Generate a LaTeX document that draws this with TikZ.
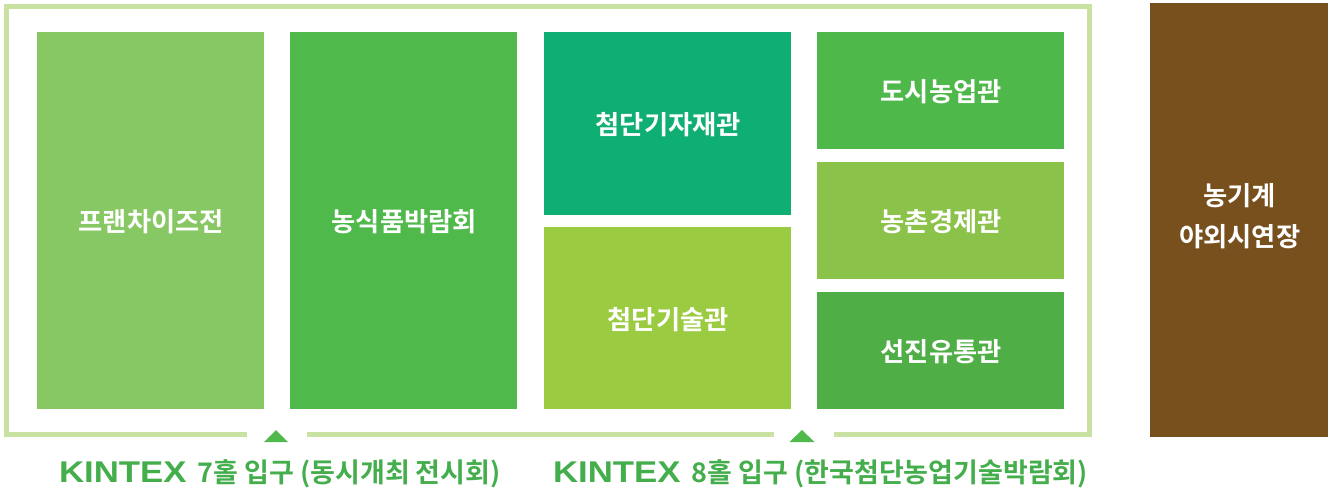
\documentclass[tikz,border=0pt]{standalone}
\usepackage{fontspec}
\setmainfont{Noto Sans CJK KR Bold}
\newfontfamily\latinbold{Liberation Sans Bold}
\definecolor{framegreen}{HTML}{C9E2A2}
\definecolor{labelgreen}{HTML}{45AE4C}
\definecolor{arrowgreen}{HTML}{50B94B}
\definecolor{cA}{HTML}{88C864}
\definecolor{cB}{HTML}{50B94B}
\definecolor{cC}{HTML}{0FAF73}
\definecolor{cD}{HTML}{9BCB41}
\definecolor{cE}{HTML}{4FB84B}
\definecolor{cF}{HTML}{8AC24A}
\definecolor{cG}{HTML}{4FAE46}
\definecolor{cH}{HTML}{78501E}
\tikzset{
  hallbox/.style={inner sep=0pt,outer sep=0pt,text=white,font=\fontsize{26.3}{41}\selectfont,align=center},
  entry/.style={inner sep=0pt,outer sep=0pt,text=labelgreen,font=\fontsize{27}{30}\selectfont,anchor=base west},
  rail/.style={draw=framegreen,line width=5.2pt,line join=miter},
  marker/.style={fill=arrowgreen,draw=none}
}
\newcommand{\hall}[8]{\fill[#6] (#2,#3) rectangle (#4,#5);
  \node[hallbox] (#1) at ({(#2+#4)/2+0.7},{(#3+#5)/2+#8}) {#7};}
\newcommand{\kintex}{{\latinbold\fontsize{30}{30}\selectfont\scalebox{1.16}[1]{KINTEX}}\hspace{11pt}}
\begin{document}
\begin{tikzpicture}[x=1pt,y=-1pt]
\useasboundingbox (0,0) rectangle (1331,493);
\draw[rail] (247,434.4) -- (6.6,434.4) -- (6.6,6.6) -- (1089.4,6.6) -- (1089.4,434.4) -- (834,434.4);
\draw[rail] (307,434.4) -- (774,434.4);
\hall{a}{37}{32}{264}{409}{cA}{프랜차이즈전}{1.5}
\hall{b}{290}{32}{517}{409}{cB}{농식품박람회}{1.5}
\hall{c}{544}{32}{791}{215}{cC}{첨단기자재관}{1.5}
\hall{d}{544}{227}{791}{409}{cD}{첨단기술관}{1.5}
\hall{e}{817}{32}{1064}{149}{cE}{도시농업관}{1.5}
\hall{f}{817}{162}{1064}{279}{cF}{농촌경제관}{1.5}
\hall{g}{817}{292}{1064}{409}{cG}{선진유통관}{1.5}
\hall{h}{1150}{3}{1328}{437}{cH}{농기계\\야외시연장}{-4}
\fill[marker] (276,430) -- (288,442) -- (264,442) -- cycle;
\fill[marker] (802,430) -- (814.5,442) -- (789.5,442) -- cycle;
\node[entry] (l1) at (59,482.5) {\kintex 7홀 입구 (동시개최 전시회)};
\node[entry] (l2) at (553,482.5) {\kintex 8홀 입구 (한국첨단농업기술박람회)};
\end{tikzpicture}
\end{document}
